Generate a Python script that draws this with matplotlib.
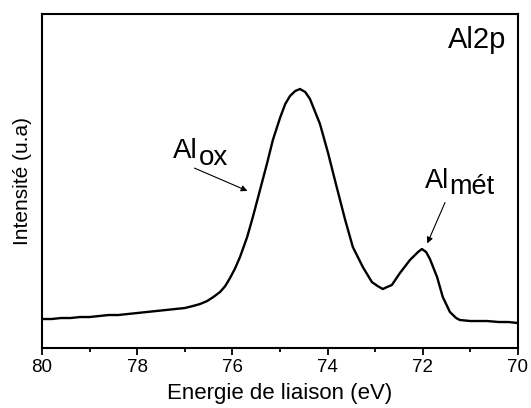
import numpy as np
import matplotlib.pyplot as plt

plt.rcParams['font.family'] = ['Liberation Sans', 'DejaVu Sans']

# Al2p spectrum (binding energy in eV, intensity in arbitrary units)
energy = [80.0, 79.8, 79.6, 79.4, 79.2, 79.0, 78.8, 78.6, 78.4, 78.2, 78.0,
          77.8, 77.6, 77.4, 77.2, 77.0, 76.83, 76.68, 76.53, 76.4, 76.26,
          76.15, 76.05, 75.95, 75.84, 75.69, 75.57, 75.42, 75.27, 75.15, 75.0,
          74.89, 74.79, 74.68, 74.58, 74.47, 74.37, 74.16, 73.99, 73.82, 73.63,
          73.47, 73.26, 73.07, 72.95, 72.84, 72.75, 72.65, 72.48, 72.27, 72.1,
          72.02, 71.93, 71.85, 71.70, 71.58, 71.43, 71.3, 71.22, 71.0, 70.8,
          70.65, 70.4, 70.2, 70.0]
intensity = [29, 29, 30, 30, 31, 31, 32, 33, 33, 34, 35,
             36, 37, 38, 39, 40, 42, 44, 47, 51, 56,
             62, 70, 79, 91, 111, 131, 158, 185, 208, 230,
             244, 252, 257, 259, 256, 249, 224, 195, 163, 128,
             101, 81, 66, 62, 59, 61, 63, 75, 88, 96,
             99, 96, 89, 71, 51, 36, 30, 28, 27, 27,
             27, 26, 26, 25]

fig = plt.figure(figsize=(5.31, 4.08), dpi=100)
ax = fig.add_axes([0.0791, 0.147, 0.8964, 0.8187])

ax.plot(energy, intensity, color='black', lw=1.7)

ax.set_xlim(80, 70)
ax.set_ylim(0, 334)
ax.set_xticks([80, 78, 76, 74, 72, 70])
ax.set_xticks([79, 77, 75, 73, 71], minor=True)
ax.set_yticks([])
ax.tick_params(axis='x', direction='out', length=5, width=1.3, labelsize=13.5, pad=3)
ax.tick_params(axis='x', which='minor', direction='out', length=3, width=1.3)
for s in ax.spines.values():
    s.set_linewidth(1.5)

ax.set_xlabel('Energie de liaison (eV)', fontsize=16, labelpad=5)
ax.set_ylabel('Intensité (u.a)', fontsize=15, labelpad=7)

# labels
ax.text(71.47, 300, 'Al2p', fontsize=21, ha='left', va='baseline')
ax.text(77.25, 190, 'Al', fontsize=20, ha='left', va='baseline')
ax.text(76.70, 183, 'ox', fontsize=20, ha='left', va='baseline')
ax.text(71.95, 160, 'Al', fontsize=19.5, ha='left', va='baseline')
ax.text(71.44, 154, 'mét', fontsize=19.5, ha='left', va='baseline')

arrow = dict(arrowstyle='-|>', color='black', lw=0.8, mutation_scale=9)
ax.annotate('', xy=(75.63, 156), xytext=(76.85, 181), arrowprops=arrow)
ax.annotate('', xy=(71.93, 102), xytext=(71.51, 148), arrowprops=arrow)

fig.savefig('out.png', dpi=100)
